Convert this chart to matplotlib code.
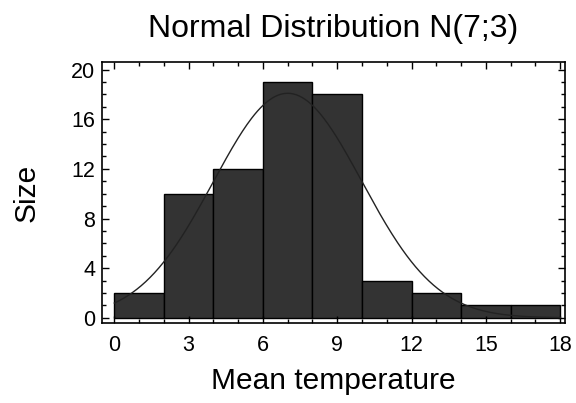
import numpy as np
import matplotlib.pyplot as plt
from matplotlib.ticker import MultipleLocator

# histogram data (bin width 2)
bin_edges = [0, 2, 4, 6, 8, 10, 12, 14, 16, 18]
counts = [2, 10, 12, 19, 18, 3, 2, 1, 1]
mu, sigma = 7, 3

plt.rcParams['font.family'] = ['Liberation Sans', 'DejaVu Sans']

fig = plt.figure(figsize=(5.76, 4.03), dpi=100)
ax = fig.add_axes([0.177, 0.199, 0.804, 0.647])

left = bin_edges[:-1]
widths = np.diff(bin_edges)
ax.bar(left, counts, width=widths, align='edge', color='#333333',
       edgecolor='black', linewidth=1.0)

# fitted normal curve scaled to counts
n = sum(counts)
x = np.linspace(0, 18, 300)
y = n * 2 / (sigma * np.sqrt(2 * np.pi)) * np.exp(-(x - mu) ** 2 / (2 * sigma ** 2))
ax.plot(x, y, color='#222222', linewidth=1.0)

ax.set_xlim(-0.5, 18.2)
ax.set_ylim(-0.4, 20.6)
ax.xaxis.set_major_locator(MultipleLocator(3))
ax.xaxis.set_minor_locator(MultipleLocator(1))
ax.yaxis.set_major_locator(MultipleLocator(4))
ax.yaxis.set_minor_locator(MultipleLocator(1))
ax.tick_params(which='both', direction='in', top=True, right=True,
               labelsize=15.5, width=1)
ax.tick_params(which='major', length=5)
ax.tick_params(which='minor', length=3)
ax.tick_params(axis='x', which='major', pad=8.5)
ax.tick_params(axis='y', which='major', pad=5)
for s in ax.spines.values():
    s.set_linewidth(1.2)

ax.set_title('Normal Distribution N(7;3)', fontsize=23, pad=18)
ax.set_xlabel('Mean temperature', fontsize=21.5, labelpad=8)
ax.set_ylabel('Size', fontsize=21.5, labelpad=22)

fig.savefig('out.png', dpi=100)
